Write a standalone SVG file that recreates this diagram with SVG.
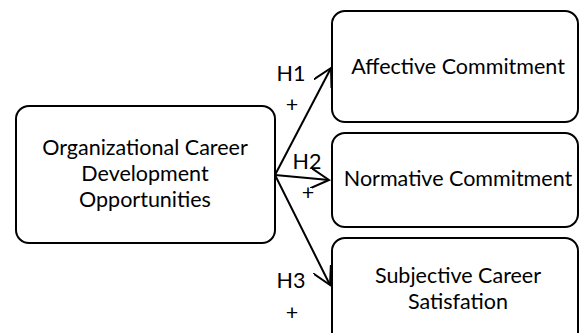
<svg xmlns="http://www.w3.org/2000/svg" width="580" height="333" viewBox="0 0 580 333">
  <style>
    .box { fill: #ffffff; stroke: #000000; stroke-width: 2; }
    .lbl { font-family: Lato, "Open Sans", "Liberation Sans", sans-serif; font-size: 21.5px; fill: #000000; text-anchor: middle; }
    .hyp { font-family: Lato, "Open Sans", "Liberation Sans", sans-serif; font-size: 21.5px; fill: #000000; text-anchor: middle; }
    .link { fill: none; stroke: #000000; stroke-width: 2; }
  </style>
  <defs>
    <marker id="arrow" viewBox="0 0 20 20" refX="18" refY="10" markerWidth="20" markerHeight="20" markerUnits="userSpaceOnUse" orient="auto">
      <path d="M 0 0 L 18 10 L 0 20" fill="none" stroke="#000000" stroke-width="2" stroke-linejoin="miter"/>
    </marker>
  </defs>
  <rect width="580" height="333" fill="#ffffff"/>

  <g id="node-ocdo">
    <rect class="box" x="16" y="106" width="259" height="137" rx="13" ry="13"/>
    <text class="lbl" x="145" y="155">Organizational Career</text>
    <text class="lbl" x="145" y="181">Development</text>
    <text class="lbl" x="145" y="207">Opportunities</text>
  </g>

  <g id="node-affective">
    <rect class="box" x="332" y="11" width="246" height="111" rx="13" ry="13"/>
    <text class="lbl" x="458" y="74">Affective Commitment</text>
  </g>

  <g id="node-normative">
    <rect class="box" x="332" y="133" width="246" height="94" rx="13" ry="13"/>
    <text class="lbl" x="458" y="186">Normative Commitment</text>
  </g>

  <g id="node-satisfaction">
    <rect class="box" x="332" y="238" width="246" height="110" rx="13" ry="13"/>
    <text class="lbl" x="458" y="283">Subjective Career</text>
    <text class="lbl" x="458" y="309">Satisfation</text>
  </g>

  <g id="connectors">
    <line class="link" x1="275" y1="175" x2="331" y2="68" marker-end="url(#arrow)"/>
    <line class="link" x1="275" y1="175" x2="329" y2="180" marker-end="url(#arrow)"/>
    <line class="link" x1="275" y1="175" x2="330" y2="285" marker-end="url(#arrow)"/>
    <text class="hyp" x="291" y="81">H1</text>
    <text class="hyp" x="292" y="112">+</text>
    <text class="hyp" x="307" y="169">H2</text>
    <text class="hyp" x="308" y="200">+</text>
    <text class="hyp" x="291" y="288">H3</text>
    <text class="hyp" x="292" y="320">+</text>
  </g>
</svg>
